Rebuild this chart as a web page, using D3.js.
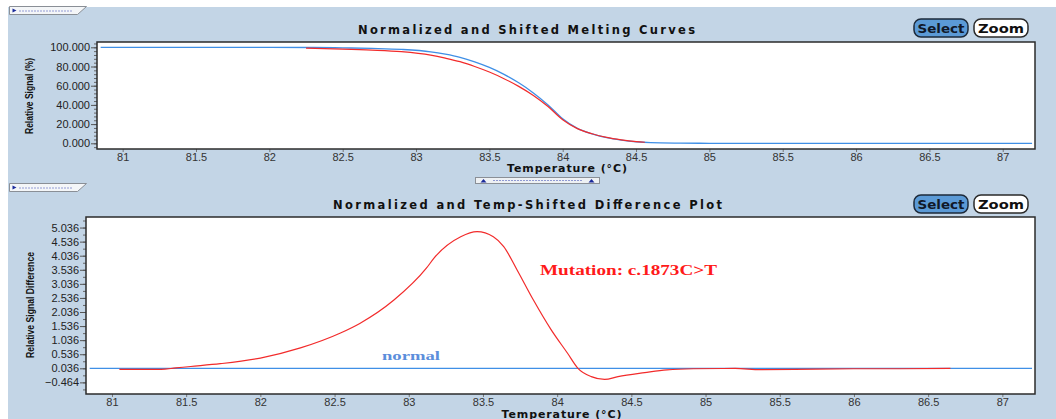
<!DOCTYPE html>
<html><head><meta charset="utf-8">
<script src="https://cdn.jsdelivr.net/npm/d3@7"></script>
<style>
html,body{margin:0;padding:0;background:#fff;}
svg{display:block;}
</style></head>
<body>
<svg id="c" width="1056" height="419"></svg>
<script>
// ---------- data ----------
const xTicks = [81, 81.5, 82, 82.5, 83, 83.5, 84, 84.5, 85, 85.5, 86, 86.5, 87];
const topYTicks = [0, 20, 40, 60, 80, 100];
const botYTicks = [-0.464, 0.036, 0.536, 1.036, 1.536, 2.036, 2.536, 3.036, 3.536, 4.036, 4.536, 5.036];

// Normalized melting curve, normal (blue)
const normalTemp = [80.85, 81.5, 82.0, 82.3, 82.5, 82.7, 82.9, 83.1, 83.2, 83.3, 83.4, 83.5, 83.6, 83.7, 83.8, 83.9, 84.0, 84.1, 84.2, 84.3, 84.4, 84.5, 84.6, 84.8, 85.0, 87.2];
const normalSignal = [100, 100, 100, 99.8, 99.4, 98.8, 97.8, 95.3, 92.8, 89.5, 84.8, 79, 71.8, 63, 52.5, 40, 25.5, 15.5, 9.8, 5.8, 3.3, 1.6, 0.7, 0.2, 0, 0];

// Normalized melting curve, mutation (red)
const mutTemp = [82.25, 82.5, 82.7, 82.9, 83.1, 83.2, 83.3, 83.4, 83.5, 83.6, 83.7, 83.8, 83.9, 84.0, 84.1, 84.2, 84.3, 84.4, 84.5, 84.56];
const mutSignal = [99.1, 98.2, 97.1, 95.4, 91.8, 88.7, 85.0, 80.0, 74.2, 67.3, 59.3, 49.8, 38.3, 24.5, 15.3, 9.9, 6.1, 3.6, 1.8, 1.1];

// Difference plot
const normalDiffTemp = [80.85, 87.2];
const normalDiff = [0.036, 0.036];
const diffTemp = [81.05, 81.33, 81.43, 81.53, 81.73, 82.0, 82.27, 82.54, 82.67, 82.9, 83.12, 83.17, 83.35, 83.46, 83.57, 83.64, 83.73, 83.84, 83.96, 84.07, 84.14, 84.23, 84.32, 84.41, 84.59, 84.74, 84.92, 85.2, 85.37, 85.6, 86.0, 86.3, 86.65];
const diffValue = [0.0, 0.0, 0.05, 0.1, 0.2, 0.4, 0.76, 1.29, 1.63, 2.46, 3.6, 3.95, 4.71, 4.89, 4.71, 4.36, 3.53, 2.46, 1.40, 0.57, 0.036, -0.26, -0.36, -0.26, -0.12, -0.02, 0.02, 0.03, -0.01, 0.0, 0.02, 0.02, 0.03];

const topTitle = "Normalized and Shifted Melting Curves";
const botTitle = "Normalized and Temp-Shifted Difference Plot";
const xTitle = "Temperature (\u00B0C)";
const topYTitle = "Relative Signal (%)";
const botYTitle = "Relative Signal Difference";
const mutLabel = "Mutation: c.1873C>T";
const normLabel = "normal";

// ---------- drawing ----------
const svg = d3.select("#c");
const BG = "#c3d5e6";
const BLUE = "#3f8fe6";
const RED = "#f22b2b";

svg.append("rect").attr("x", 8).attr("y", 7).attr("width", 1048).attr("height", 412).attr("fill", BG);

function tab(x, y) {
  const g = svg.append("g");
  g.append("path").attr("d", `M${x},${y}H${x+77}L${x+68},${y+8}H${x}Z`)
    .attr("fill", "#f4f6f8").attr("stroke", "#8a8f96").attr("stroke-width", 1);
  g.append("path").attr("d", `M${x+3},${y+2}L${x+7},${y+4}L${x+3},${y+6}Z`).attr("fill", "#1a2a9a");
  g.append("line").attr("x1", x+10).attr("x2", x+62).attr("y1", y+4.5).attr("y2", y+4.5)
    .attr("stroke", "#3040b0").attr("stroke-dasharray", "1,2").attr("stroke-width", 1);
}
tab(9.5, 6.5);
tab(9.5, 183.5);

// splitter
(function(){
  const x = 475.5, y = 177.5, w = 124, h = 6;
  svg.append("rect").attr("x", x).attr("y", y).attr("width", w).attr("height", h)
    .attr("fill", "#eef1f4").attr("stroke", "#8a8f96");
  [x+8, x+w-8].forEach(cx => svg.append("path")
    .attr("d", `M${cx-3},${y+5}L${cx},${y+1.5}L${cx+3},${y+5}Z`).attr("fill", "#1a2a9a"));
  svg.append("line").attr("x1", x+18).attr("x2", x+w-18).attr("y1", y+3).attr("y2", y+3)
    .attr("stroke", "#3040b0").attr("stroke-dasharray", "1,2");
})();

function buttons(y) {
  const g = svg.append("g");
  g.append("rect").attr("x", 914).attr("y", y).attr("width", 54).attr("height", 18).attr("rx", 7)
    .attr("fill", "#5b9ad6").attr("stroke", "#1d2a3a").attr("stroke-width", 1.5);
  g.append("text").attr("x", 941).attr("y", y + 13.5).attr("text-anchor", "middle")
    .attr("font-family", "'DejaVu Sans', Verdana, sans-serif").attr("font-weight", "bold")
    .attr("font-size", 12).attr("textLength", 47).attr("lengthAdjust", "spacingAndGlyphs")
    .attr("fill", "#101828").text("Select");
  g.append("rect").attr("x", 974).attr("y", y).attr("width", 54).attr("height", 18).attr("rx", 7)
    .attr("fill", "#ffffff").attr("stroke", "#2a2a2a").attr("stroke-width", 1.5);
  g.append("text").attr("x", 1001).attr("y", y + 13.5).attr("text-anchor", "middle")
    .attr("font-family", "'DejaVu Sans', Verdana, sans-serif").attr("font-weight", "bold")
    .attr("font-size", 12).attr("textLength", 46).attr("lengthAdjust", "spacingAndGlyphs")
    .attr("fill", "#101010").text("Zoom");
}
buttons(19);
buttons(195);

function panel(o) {
  const x = d3.scaleLinear().domain([80.825, 87.22]).range([o.left, o.right]);
  const y = d3.scaleLinear().domain(o.yDom).range(o.yRange);
  const g = svg.append("g");
  const id = "clip" + o.key;
  svg.append("clipPath").attr("id", id).append("rect")
    .attr("x", o.left).attr("y", o.top).attr("width", o.right - o.left).attr("height", o.bottom - o.top);
  // title
  g.append("text").attr("x", o.titleX).attr("y", o.titleY).attr("text-anchor", "middle")
    .attr("font-family", "'DejaVu Sans', Verdana, sans-serif").attr("font-weight", "bold")
    .attr("font-size", 11.5).attr("textLength", o.titleLen).attr("lengthAdjust", "spacing")
    .attr("fill", "#111").text(o.title);
  // plot area
  g.append("rect").attr("x", o.left).attr("y", o.top).attr("width", o.right - o.left).attr("height", o.bottom - o.top)
    .attr("fill", "#fff");
  // x axis
  const xa = g.append("g").attr("transform", `translate(0,${o.bottom})`)
    .call(d3.axisBottom(x).tickValues(xTicks).tickSize(3).tickSizeOuter(0).tickPadding(1).tickFormat(d3.format("")));
  xa.select(".domain").remove();
  xa.selectAll("line").attr("stroke", "#777");
  xa.selectAll("text").attr("font-family", "'Liberation Sans', Arial, sans-serif").attr("font-size", 11).attr("fill", "#333");
  g.append("text").attr("x", (o.left + o.right) / 2 + 1).attr("y", o.xTitleY).attr("text-anchor", "middle")
    .attr("font-family", "'DejaVu Sans', Verdana, sans-serif").attr("font-weight", "bold")
    .attr("font-size", 11).attr("textLength", 120).attr("lengthAdjust", "spacing")
    .attr("fill", "#111").text(xTitle);
  // y axis minor
  const ya2 = g.append("g").attr("transform", `translate(${o.left},0)`)
    .call(d3.axisLeft(y).tickValues(o.minor).tickSize(3).tickFormat(""));
  ya2.select(".domain").remove();
  ya2.selectAll("line").attr("stroke", "#666");
  const ya = g.append("g").attr("transform", `translate(${o.left},0)`)
    .call(d3.axisLeft(y).tickValues(o.yTicks).tickSize(6).tickPadding(1).tickFormat(d3.format(".3f")));
  ya.select(".domain").remove();
  ya.selectAll("line").attr("stroke", "#555");
  ya.selectAll("text").attr("font-family", "'Liberation Sans', Arial, sans-serif").attr("font-size", 11).attr("fill", "#222");
  g.append("text").attr("transform", `translate(${o.yTitleX},${o.yTitleY}) rotate(-90)`).attr("text-anchor", "middle")
    .attr("font-family", "'Liberation Sans Narrow', 'Liberation Sans', Arial, sans-serif").attr("font-weight", "bold")
    .attr("font-size", 10.5).attr("textLength", o.yTitleLen).attr("lengthAdjust", "spacingAndGlyphs")
    .attr("fill", "#111").text(o.yTitle);
  const plot = g.append("g").attr("clip-path", `url(#${id})`);
  g.append("rect").attr("x", o.left).attr("y", o.top).attr("width", o.right - o.left).attr("height", o.bottom - o.top)
    .attr("fill", "none").attr("stroke", "#2b2b2b").attr("stroke-width", 1.5);
  return {x, y, plot};
}

const line = (xs, ys, sx, sy) => d3.line().curve(d3.curveMonotoneX)
  .x((d, i) => sx(xs[i])).y((d, i) => sy(ys[i]))(xs);

// top panel
const minorTop = d3.range(-4, 105, 4);
const P1 = panel({key: "a", left: 97, right: 1035, top: 42, bottom: 149,
  yDom: [0, 100], yRange: [143.3, 47.3], yTicks: topYTicks, minor: minorTop,
  title: topTitle, titleX: 526.5, titleY: 34, titleLen: 337, xTitleY: 171.5,
  yTitle: topYTitle, yTitleX: 33, yTitleY: 96, yTitleLen: 76});
P1.plot.append("path").attr("d", line(normalTemp, normalSignal, P1.x, P1.y))
  .attr("fill", "none").attr("stroke", BLUE).attr("stroke-width", 1.3);
P1.plot.append("path").attr("d", line(mutTemp, mutSignal, P1.x, P1.y))
  .attr("fill", "none").attr("stroke", RED).attr("stroke-width", 1.2);

// bottom panel
const minorBot = d3.range(-0.714, 5.3, 0.25);
const P2 = panel({key: "b", left: 86, right: 1035, top: 217, bottom: 394,
  yDom: [0.036, 4.036], yRange: [368.3, 255.7], yTicks: botYTicks, minor: minorBot,
  title: botTitle, titleX: 527.5, titleY: 209, titleLen: 389, xTitleY: 417.5,
  yTitle: botYTitle, yTitleX: 34, yTitleY: 305, yTitleLen: 106});
P2.plot.append("path").attr("d", line(normalDiffTemp, normalDiff, P2.x, P2.y))
  .attr("fill", "none").attr("stroke", BLUE).attr("stroke-width", 1.2);
P2.plot.append("path").attr("d", line(diffTemp, diffValue, P2.x, P2.y))
  .attr("fill", "none").attr("stroke", RED).attr("stroke-width", 1.2);

svg.append("text").attr("x", 540).attr("y", 275)
  .attr("font-family", "'Liberation Serif', 'Times New Roman', serif").attr("font-weight", "bold")
  .attr("font-size", 15.5).attr("textLength", 177).attr("lengthAdjust", "spacingAndGlyphs")
  .attr("fill", "#ff1a1a").text(mutLabel);
svg.append("text").attr("x", 382).attr("y", 360)
  .attr("font-family", "'Liberation Serif', 'Times New Roman', serif").attr("font-weight", "bold")
  .attr("font-size", 13.5).attr("textLength", 58).attr("lengthAdjust", "spacingAndGlyphs")
  .attr("fill", "#5b8edb").text(normLabel);
</script>
</body></html>
